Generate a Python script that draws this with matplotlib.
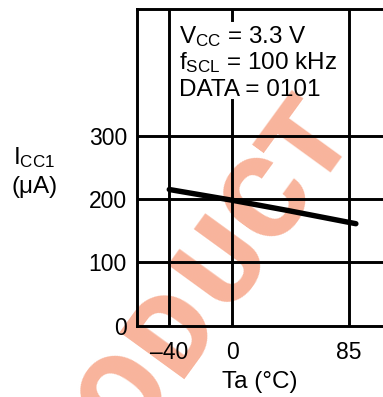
import numpy as np
import matplotlib
matplotlib.use("Agg")
import matplotlib.pyplot as plt
from matplotlib import font_manager

plt.rcParams["font.family"] = ["Liberation Sans", "DejaVu Sans"]
plt.rcParams["mathtext.fontset"] = "custom"
plt.rcParams["mathtext.rm"] = "Liberation Sans"
plt.rcParams["mathtext.it"] = "Liberation Sans"

# Supply current vs. ambient temperature
temp_c = [-40, 0, 40, 90]
icc_ua = [215, 198, 182, 161]

x_ticks = [-40, 0, 85]
x_tick_labels = ["\u201340", "0", "85"]
y_ticks = [0, 100, 200, 300]
y_tick_labels = ["0", "100", "200", "300"]
x_grid = [-40, 0, 85]
y_grid = [100, 200, 300]

conditions = [r"V$_{\mathrm{CC}}$ = 3.3 V",
              r"f$_{\mathrm{SCL}}$ = 100 kHz",
              "DATA = 0101"]

W, H = 383, 397
fig = plt.figure(figsize=(W / 100, H / 100), dpi=100)
fig.patch.set_facecolor("white")

# the temperature axis is compressed above 0 °C
K = 0.872


def fwd(t):
    t = np.asarray(t, dtype=float)
    return np.where(t <= 0, t, t * K)


def inv(u):
    u = np.asarray(u, dtype=float)
    return np.where(u <= 0, u, u / K)


x0, x1 = -60.3, 120.0
px_per_unit_x = 1.575
px_per_unit_y = 0.6335
y0, y1 = 0, 500
ax_left_px, ax_bottom_px = 137.3, 325.7
width_px = (float(fwd(x1)) - float(fwd(x0))) * px_per_unit_x
height_px = (y1 - y0) * px_per_unit_y
ax = fig.add_axes([ax_left_px / W, (H - ax_bottom_px) / H, width_px / W, height_px / H])
ax.set_xscale("function", functions=(fwd, inv))
ax.set_xlim(x0, x1)
ax.set_ylim(y0, y1)
ax.patch.set_alpha(0)

lw_grid = 2.1
for s in ["left", "bottom", "top"]:
    ax.spines[s].set_linewidth(lw_grid)
    ax.spines[s].set_color("black")
ax.spines["right"].set_visible(False)

for y in y_grid:
    ax.axhline(y, color="black", lw=lw_grid, zorder=2)
for x in x_grid:
    if x == 0:
        # interrupted behind the conditions block
        ax.axvline(x, ymin=0, ymax=0.712, color="black", lw=lw_grid, zorder=2)
        ax.axvline(x, ymin=0.965, ymax=1, color="black", lw=lw_grid, zorder=2)
    else:
        ax.axvline(x, color="black", lw=lw_grid, zorder=2)

ax.plot(temp_c, icc_ua, color="black", lw=3.9, solid_capstyle="round", zorder=3)

ax.set_xticks(x_ticks)
ax.set_xticklabels(x_tick_labels, fontsize=16.5)
ax.set_yticks(y_ticks)
ax.set_yticklabels(y_tick_labels, fontsize=16.5)
ax.tick_params(axis="both", length=0)
ax.tick_params(axis="x", pad=11)
ax.tick_params(axis="y", pad=7.5)
ax.minorticks_off()

# test conditions
baselines = [42.7, 69.5, 96.0]
for txt, yb in zip(conditions, baselines):
    fig.text(179 / W, 1 - yb / H, txt, fontsize=17.5, ha="left", va="baseline")

# axis titles
fig.text(13 / W, 1 - 164 / H, r"I$_{\mathrm{CC1}}$", fontsize=17.5, ha="left", va="baseline")
fig.text(12 / W, 1 - 193 / H, "(\u03bcA)", fontsize=17.5, ha="left", va="baseline")
fig.text(260 / W, 1 - 388 / H, "Ta (\u00b0C)", fontsize=17.5, ha="center", va="baseline")

# watermark: heavy letters spaced along a diagonal
heavy = None
for fam in ["Roboto", "Lato", "Inter", "Open Sans"]:
    for f in font_manager.fontManager.ttflist:
        w = f.weight if isinstance(f.weight, int) else 400
        if f.name == fam and w >= 800 and f.style == "normal":
            heavy = (fam, w)
            break
    if heavy:
        break
if heavy is None:
    heavy = ("Liberation Sans", "bold")

wm_word = "PRODUCT"
wm_angle = 54.0
wm_size = 82
wm_gaps = [82, 84, 82, 84, 78, 70]     # centre-to-centre spacing, px
ang = np.deg2rad(wm_angle)
along = np.array([np.cos(ang), -np.sin(ang)])     # image coords (y down)
half_cap = 0.711 * wm_size * 100 / 72 / 2
to_base = np.array([np.sin(ang), np.cos(ang)]) * half_cap
centre = np.array([304.0, 138.0])                 # last letter
centres = [centre]
for g in wm_gaps[::-1]:
    centre = centre - along * g
    centres.append(centre)
centres = centres[::-1]
for ch, c in zip(wm_word, centres):
    bx, by = c + to_base
    fig.text(bx / W, 1 - by / H, ch, fontsize=wm_size, family=heavy[0],
             fontweight=heavy[1], color="#F8B49C", rotation=wm_angle,
             rotation_mode="anchor", ha="center", va="baseline", zorder=-1)

fig.savefig("out.png", dpi=100, facecolor="white")
